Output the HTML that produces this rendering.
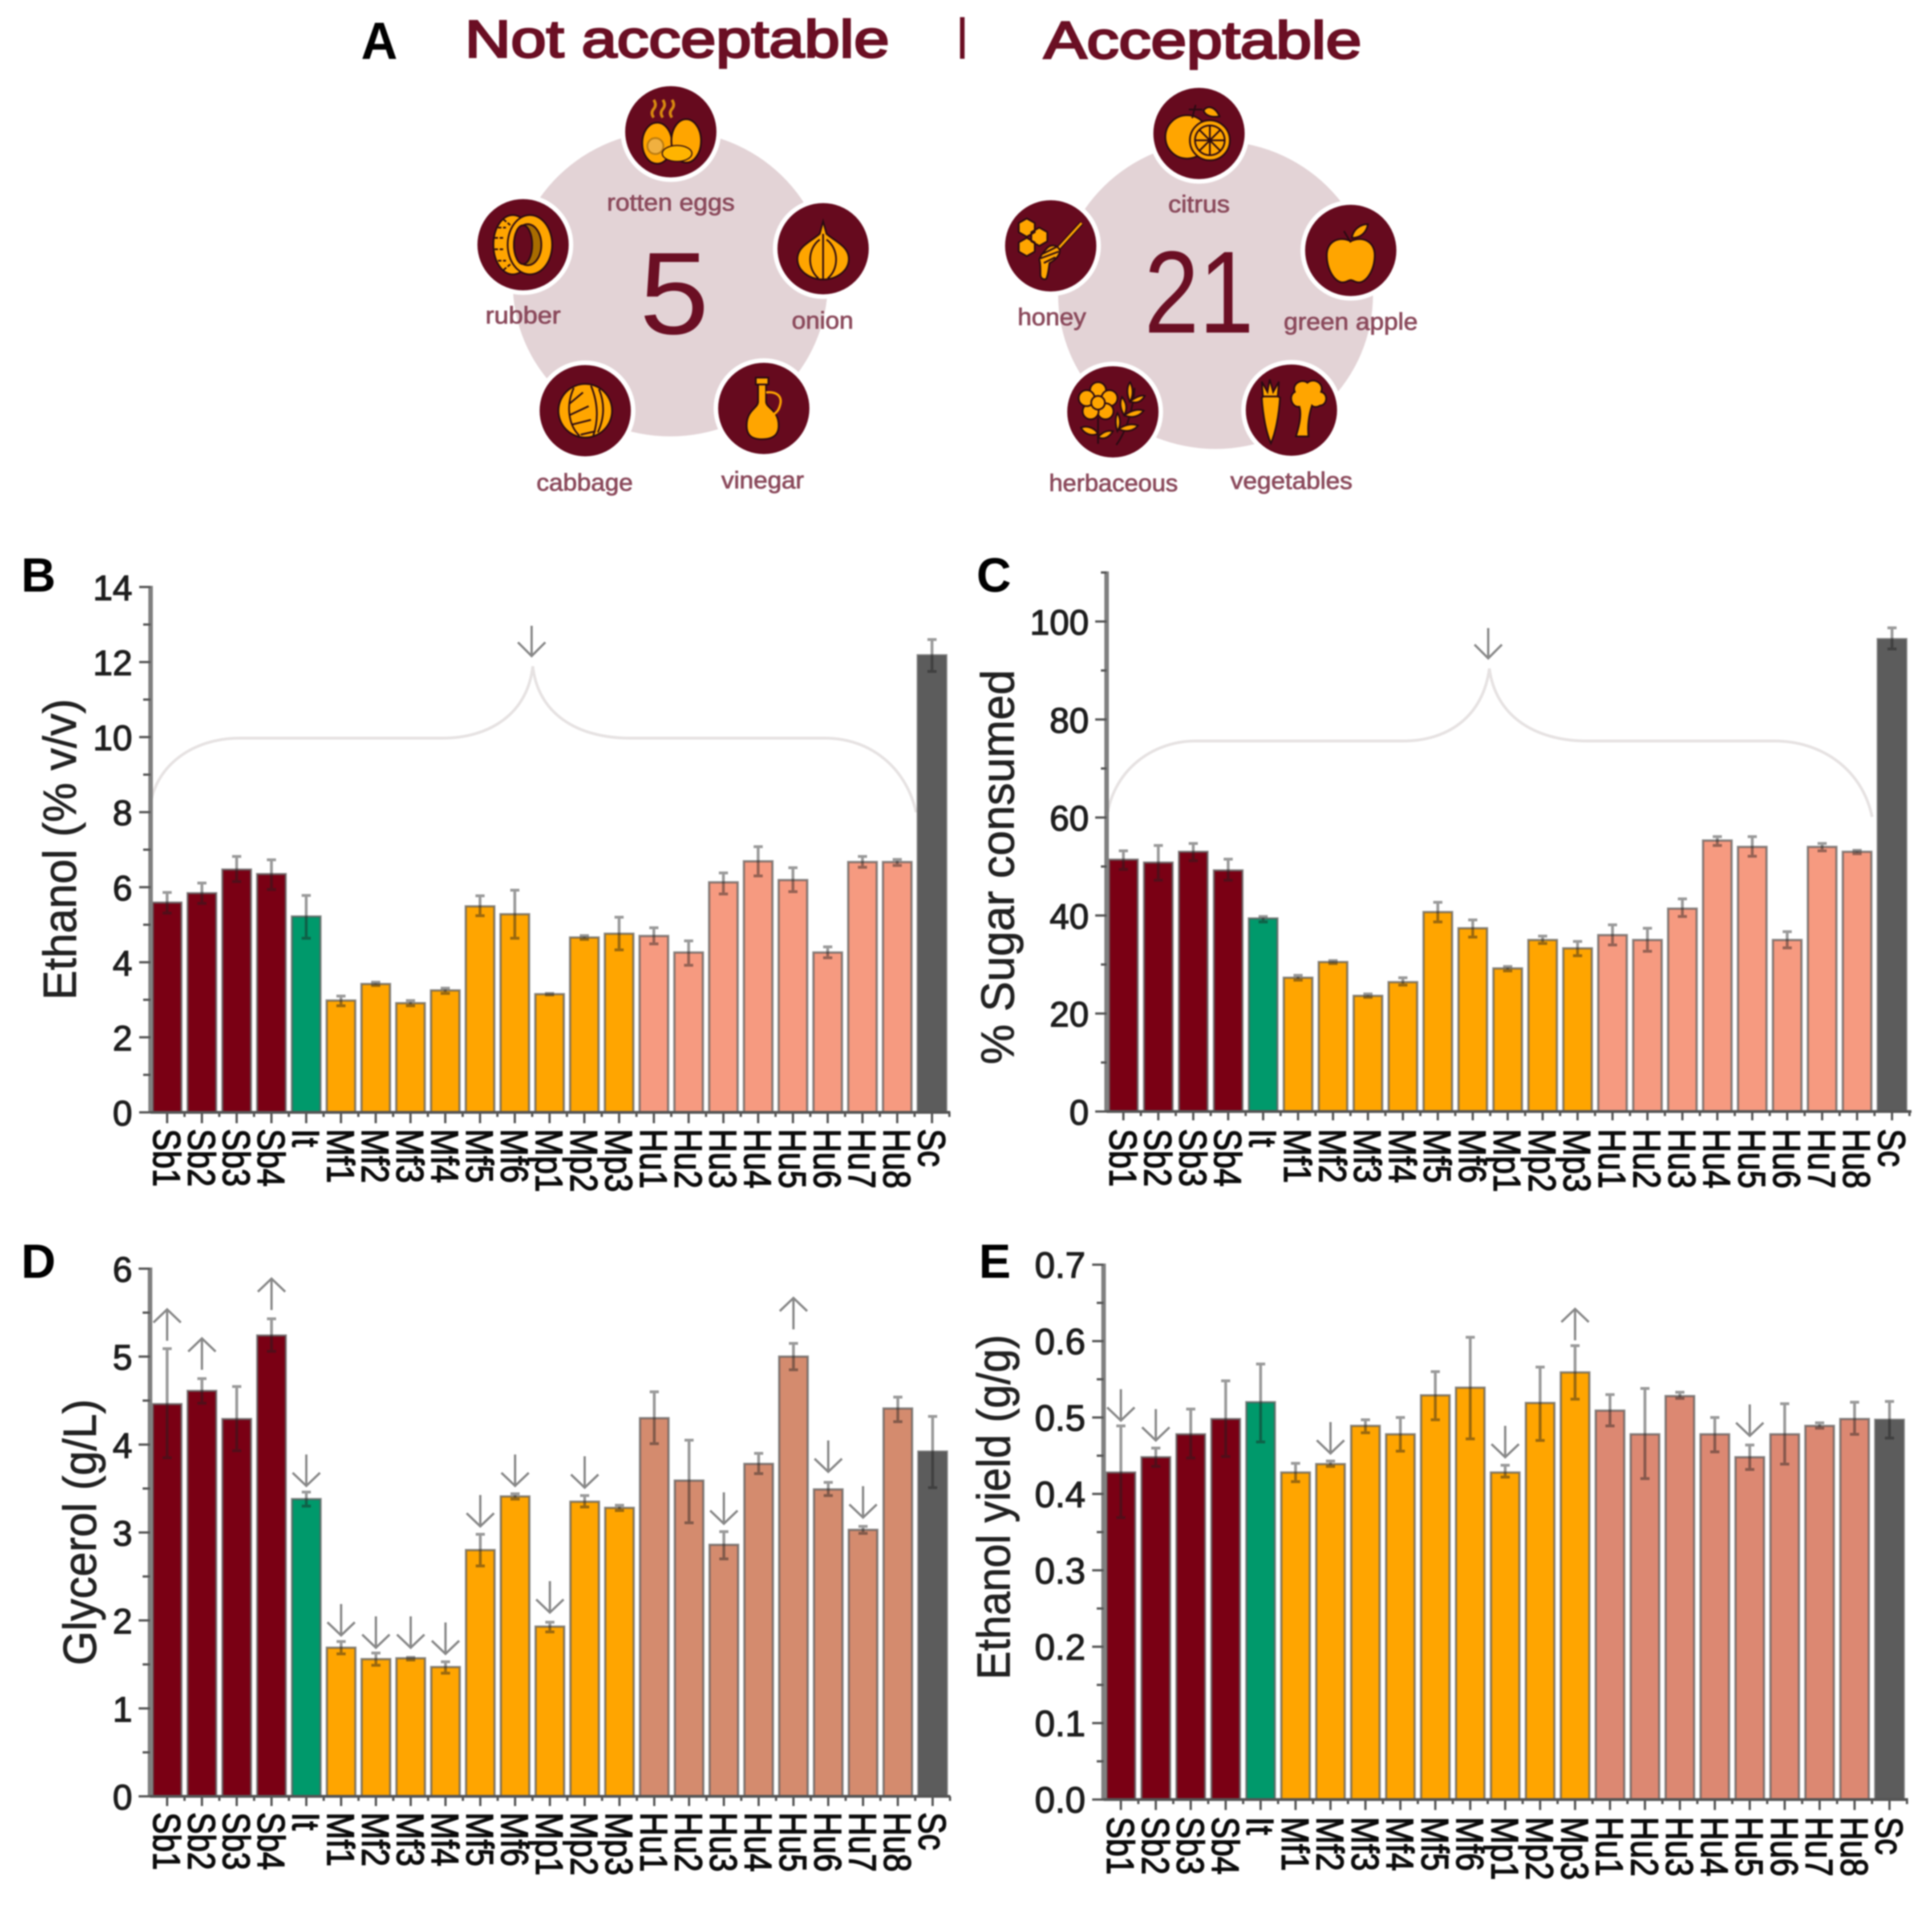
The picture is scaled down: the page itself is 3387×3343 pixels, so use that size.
<!DOCTYPE html>
<html lang="en">
<head>
<meta charset="utf-8">
<title>Fermentation performance of yeast strains</title>
<style>
html,body{margin:0;padding:0;background:#fff;width:3387px;height:3343px;overflow:hidden}
svg{display:block;filter:blur(1.3px);font-family:"Liberation Sans",Arial,sans-serif}
.ttl{font-weight:400;fill:#6b0f24;stroke:#6b0f24;stroke-width:3.5px;font-size:92px}
.lbl{fill:#8b4a5c;stroke:#8b4a5c;stroke-width:1px;font-size:42px;text-anchor:middle}
.num{fill:#6b0f24;font-size:205px}
.disc{fill:#660a1e;stroke:#fff;stroke-width:8}
.o{fill:#ffa500;stroke:#2a0a12;stroke-width:3}
.l{fill:none;stroke:#2a0a12;stroke-width:3}
.d{fill:#a86c00;stroke:#2a0a12;stroke-width:3}
.brace{fill:none;stroke:#e6e2e2;stroke-width:5}
.arrow{fill:none;stroke:#888;stroke-width:4}
</style>
</head>
<body>
<svg id="fig" xmlns="http://www.w3.org/2000/svg" width="3387" height="3343" viewBox="0 0 3387 3343">
<rect width="3387" height="3343" fill="#fff"/>

<g>
  <text x="633" y="103" font-size="92" font-weight="700" fill="#000" textLength="64" lengthAdjust="spacingAndGlyphs">A</text>
  <text class="ttl" x="815" y="100" textLength="744" lengthAdjust="spacingAndGlyphs">Not acceptable</text>
  <rect x="1683" y="30" width="8" height="73" fill="#6b0f24"/>
  <text class="ttl" x="1830" y="102" textLength="557" lengthAdjust="spacingAndGlyphs">Acceptable</text>

  <ellipse cx="1175" cy="497" rx="276" ry="268" fill="#e3d3d6"/>
  <text class="num" x="1182" y="585" text-anchor="middle" textLength="122" lengthAdjust="spacingAndGlyphs">5</text>

  <g transform="translate(1176,231)">
    <circle class="disc" r="84"/>
    <path d="M-30 -25q-6 -8 0 -15t0 -16M-14 -25q-6 -8 0 -15t0 -16M2 -25q-6 -8 0 -15t0 -16" fill="none" stroke="#d88a10" stroke-width="5"/>
    <ellipse class="o" cx="-24" cy="20" rx="26" ry="36"/>
    <ellipse class="o" cx="27" cy="16" rx="26" ry="38"/>
    <circle cx="-27" cy="25" r="14" fill="#f0b040" stroke="#b87a10" stroke-width="3"/>
    <ellipse cx="11" cy="38" rx="26" ry="14" fill="#ffb400" stroke="#2a0a12" stroke-width="2"/>
  </g>
  <g transform="translate(1443,436)">
    <circle class="disc" r="84"/>
    <path class="o" d="M0 -48L6 -26C22 -12 45 -4 45 18C45 40 22 54 0 54C-22 54 -45 40 -45 18C-45 -4 -22 -12 -6 -26Z"/>
    <path class="l" d="M0 -26V54M-6 -16C-28 0 -28 36 -8 52M6 -16C28 0 28 36 8 52"/>
  </g>
  <g transform="translate(1339,716)">
    <circle class="disc" r="84"/>
    <path class="o" d="M-14 -54H8V-42H4V-12C4 0 26 2 26 30C26 48 14 54 -3 54C-20 54 -30 48 -30 30C-30 2 -10 0 -10 -12V-42H-14Z"/>
    <path d="M4 -28C22 -30 34 -22 28 -4C25 6 20 8 18 10" fill="none" stroke="#ffa500" stroke-width="4"/>
    <path class="l" d="M-10 -42H4"/>
  </g>
  <g transform="translate(1026,720)">
    <circle class="disc" r="84"/>
    <circle class="o" r="47"/>
    <path class="l" d="M-20 -40C-34 -10 -30 25 -10 44M-28 -12L-4 -32M-28 8L6 -8M-22 24L10 16M-8 42L18 36M24 -38C34 -14 34 12 22 38M10 -44C24 -10 22 20 14 44"/>
  </g>
  <g transform="translate(917,429)">
    <circle class="disc" r="84"/>
    <ellipse class="o" cx="-18" cy="0" rx="34" ry="52"/>
    <path class="l" d="M-44 -30H-30M-50 -12H-34M-50 8H-34M-44 28H-30M-34 -44L-22 -34M-34 44L-22 34" stroke-dasharray="6 3"/>
    <ellipse class="o" cx="12" cy="0" rx="39" ry="52"/>
    <ellipse cx="8" cy="0" rx="24" ry="36" fill="#a86c00" stroke="#2a0a12" stroke-width="3"/>
    <ellipse cx="0" cy="0" rx="16" ry="34" fill="#660a1e" stroke="#2a0a12" stroke-width="3"/>
  </g>
  <text class="lbl" x="1176" y="369" textLength="224" lengthAdjust="spacingAndGlyphs">rotten eggs</text>
  <text class="lbl" x="917" y="567" textLength="132" lengthAdjust="spacingAndGlyphs">rubber</text>
  <text class="lbl" x="1442" y="576" textLength="108" lengthAdjust="spacingAndGlyphs">onion</text>
  <text class="lbl" x="1337" y="856" textLength="145" lengthAdjust="spacingAndGlyphs">vinegar</text>
  <text class="lbl" x="1025" y="860" textLength="169" lengthAdjust="spacingAndGlyphs">cabbage</text>

  <ellipse cx="2131" cy="517" rx="276" ry="270" fill="#e3d3d6"/>
  <text class="num" x="2006" y="583" textLength="192" lengthAdjust="spacingAndGlyphs">21</text>

  <g transform="translate(2102,234)">
    <circle class="disc" r="84"/>
    <circle class="o" cx="-21" cy="6" r="38"/>
    <path class="l" d="M-12 -27L-6 -50M-18 -42H6"/>
    <path class="o" d="M8 -40C14 -50 28 -48 36 -30C24 -28 12 -30 8 -40Z"/>
    <circle class="o" cx="19" cy="12" r="35"/>
    <circle class="l" cx="19" cy="12" r="26"/>
    <path class="l" d="M19 -14V38M-7 12H45M1 -6L37 30M1 30L37 -6"/>
  </g>
  <g transform="translate(2368,439)">
    <circle class="disc" r="84"/>
    <path class="o" d="M0 -16C20 -26 42 -16 42 8C42 34 28 56 14 56C8 56 4 52 0 52C-4 52 -8 56 -14 56C-28 56 -42 34 -42 8C-42 -16 -20 -26 0 -16Z"/>
    <path class="l" d="M0 -14L-12 -34"/>
    <path class="o" d="M2 -22C4 -36 16 -46 30 -46C28 -32 18 -22 2 -22Z"/>
  </g>
  <g transform="translate(2264,719)">
    <circle class="disc" r="84"/>
    <path class="o" d="M-52 -22C-44 -28 -30 -28 -20 -22C-22 10 -28 40 -36 58C-44 40 -50 10 -52 -22Z"/>
    <path class="o" d="M-50 -24L-52 -50L-42 -32L-38 -54L-32 -32L-22 -50L-24 -24Z"/>
    <path class="o" d="M6 -32C0 -46 18 -56 28 -48C40 -58 58 -46 52 -32C66 -28 62 -8 50 -8C44 -4 38 -6 36 -8C30 10 28 30 30 46H8C14 26 18 8 14 -6C0 -4 -6 -26 6 -32Z"/>
  </g>
  <g transform="translate(1951,722)">
    <circle class="disc" r="84"/>
    <circle class="o" cx="-26" cy="-38" r="14"/><circle class="o" cx="-6" cy="-24" r="14"/><circle class="o" cx="-13" cy="-1" r="14"/><circle class="o" cx="-39" cy="-1" r="14"/><circle class="o" cx="-46" cy="-24" r="14"/>
    <circle class="o" cx="-26" cy="-16" r="12"/>
    <path class="l" d="M-26 10V56M38 -42C36 -10 26 30 6 58"/>
    <path class="o" d="M-26 38C-34 26 -48 24 -56 28C-50 38 -38 44 -26 38ZM-26 44C-16 34 -8 32 0 34C-6 44 -16 50 -26 44Z"/>
    <path class="o" d="M30 -18C24 -30 24 -44 30 -52C36 -42 36 -28 30 -18ZM30 -18C40 -26 50 -30 56 -28C50 -18 42 -14 30 -18ZM20 6C12 -6 12 -18 16 -26C24 -16 26 -6 20 6ZM20 6C32 -2 44 -6 54 -2C46 8 34 12 20 6ZM8 34C4 22 4 10 8 2C14 12 14 24 8 34ZM10 30C22 22 34 20 44 24C36 34 22 36 10 30Z"/>
  </g>
  <g transform="translate(1842,431)">
    <circle class="disc" r="84"/>
    <path class="o" d="M-42 -48L-28 -40V-24L-42 -16L-56 -24V-40ZM-20 -32L-6 -24V-8L-20 0L-34 -8V-24ZM-42 -14L-28 -6V10L-42 18L-56 10V-6Z"/>
    <path d="M54 -40L12 6" stroke="#2a0a12" stroke-width="8"/>
    <path d="M54 -40L12 6" stroke="#ffa500" stroke-width="4"/>
    <path class="o" d="M-8 6C0 -4 12 -2 16 8C16 18 6 26 -2 30C-4 40 -4 50 -8 58C-14 60 -18 56 -18 50C-18 40 -18 30 -20 24C-18 18 -14 12 -8 6Z"/>
    <path class="l" d="M-14 14L10 2M-18 22L14 10M-12 30L8 20"/>
  </g>
  <text class="lbl" x="2102" y="372" textLength="108" lengthAdjust="spacingAndGlyphs">citrus</text>
  <text class="lbl" x="1844" y="570" textLength="120" lengthAdjust="spacingAndGlyphs">honey</text>
  <text class="lbl" x="2368" y="578" textLength="235" lengthAdjust="spacingAndGlyphs">green apple</text>
  <text class="lbl" x="2264" y="857" textLength="214" lengthAdjust="spacingAndGlyphs">vegetables</text>
  <text class="lbl" x="1952" y="861" textLength="226" lengthAdjust="spacingAndGlyphs">herbaceous</text>
</g>

<path class="brace" d="M264 1409C275 1340 340 1294 420 1294L775 1294C860 1294 925 1250 934 1168C943 1250 1010 1294 1105 1294L1446 1294C1530 1294 1590 1350 1606 1424"/>
<path class="arrow" d="M932 1097V1150M908 1126L932 1150L956 1126"/>
<path class="brace" d="M1942 1424C1955 1350 2020 1299 2096 1299L2459 1299C2540 1299 2600 1255 2611 1172C2622 1255 2690 1299 2783 1299L3111 1299C3195 1299 3265 1350 3282 1432"/>
<path class="arrow" d="M2609 1101V1154M2585 1130L2609 1154L2633 1130"/>
</svg>

<script>
var categories = ['Sb1','Sb2','Sb3','Sb4','It','Mf1','Mf2','Mf3','Mf4','Mf5','Mf6','Mp1','Mp2','Mp3','Hu1','Hu2','Hu3','Hu4','Hu5','Hu6','Hu7','Hu8','Sc'];
var speciesGroups = ['sb','sb','sb','sb','it','mf','mf','mf','mf','mf','mf','mp','mp','mp','hu','hu','hu','hu','hu','hu','hu','hu','sc'];

var ethanolValues = [5.59,5.84,6.47,6.35,5.22,2.98,3.42,2.91,3.25,5.49,5.28,3.15,4.66,4.76,4.7,4.26,6.13,6.69,6.19,4.26,6.67,6.67,12.18];
var ethanolHigh   = [5.86,6.11,6.82,6.73,5.78,3.1,3.47,2.98,3.31,5.77,5.92,3.17,4.71,5.2,4.92,4.57,6.38,7.08,6.52,4.41,6.82,6.74,12.6];
var ethanolLow    = [5.31,5.57,6.15,5.94,4.64,2.84,3.38,2.84,3.17,5.24,4.64,3.13,4.61,4.33,4.49,3.92,5.82,6.3,5.88,4.12,6.53,6.58,11.75];
var ethanolTicks  = [0,2,4,6,8,10,12,14];
var ethanolMinor  = [1,3,5,7,9,11,13];

var sugarValues = [51.4,50.8,53,49.2,39.4,27.3,30.5,23.6,26.4,40.7,37.4,29.2,35,33.3,36,35,41.4,55.3,54,35,54,53,96.4];
var sugarHigh   = [53.2,54.3,54.7,51.5,39.8,27.8,30.8,24,27.3,42.7,39.1,29.6,35.8,34.7,38.1,37.4,43.4,56.1,56.1,36.7,54.7,53.3,98.7];
var sugarLow    = [49.4,47.2,51.2,47.2,38.7,26.8,30.2,23.3,25.8,38.7,35.6,28.7,34.3,31.8,34,32.7,39.8,54.3,52.1,33.4,53.2,52.6,94.4];
var sugarTicks  = [0,20,40,60,80,100];
var sugarMinor  = [10,30,50,70,90,110];

var glycerolValues = [4.46,4.61,4.29,5.24,3.38,1.69,1.56,1.57,1.47,2.8,3.41,1.93,3.35,3.28,4.3,3.59,2.86,3.78,5,3.49,3.03,4.41,3.92];
var glycerolHigh   = [5.09,4.75,4.66,5.43,3.46,1.76,1.63,1.58,1.53,2.98,3.44,1.98,3.42,3.31,4.6,4.05,3.01,3.9,5.15,3.57,3.07,4.54,4.32];
var glycerolLow    = [3.85,4.47,3.93,5.06,3.3,1.62,1.49,1.55,1.4,2.62,3.38,1.87,3.29,3.25,4.01,3.11,2.7,3.67,4.85,3.42,2.99,4.26,3.51];
var glycerolTicks  = [0,1,2,3,4,5,6];
var glycerolMinor  = [0.5,1.5,2.5,3.5,4.5,5.5];
var glycerolArrowStrain = ['Sb1','Sb2','Sb4','Hu5','It','Mf1','Mf2','Mf3','Mf4','Mf5','Mf6','Mp1','Mp2','Hu3','Hu6','Hu7'];
var glycerolArrowDir    = ['up','up','up','up','down','down','down','down','down','down','down','down','down','down','down','down'];
var glycerolArrowAt     = [5.18,4.85,5.53,5.31,3.53,1.83,1.69,1.69,1.62,3.07,3.53,2.09,3.51,3.1,3.69,3.17];

var yieldValues = [0.428,0.448,0.478,0.498,0.52,0.428,0.439,0.489,0.478,0.529,0.539,0.428,0.519,0.559,0.509,0.478,0.528,0.478,0.448,0.478,0.489,0.498,0.497];
var yieldHigh   = [0.489,0.46,0.511,0.548,0.57,0.44,0.443,0.497,0.5,0.56,0.605,0.4375,0.566,0.594,0.53,0.538,0.533,0.5,0.464,0.518,0.493,0.52,0.521];
var yieldLow    = [0.369,0.436,0.447,0.449,0.468,0.416,0.436,0.48,0.456,0.497,0.472,0.422,0.47,0.524,0.489,0.42,0.525,0.455,0.432,0.439,0.486,0.478,0.473];
var yieldTicks  = [0,0.1,0.2,0.3,0.4,0.5,0.6,0.7];
var yieldMinor  = [0.05,0.15,0.25,0.35,0.45,0.55,0.65];
var yieldArrowStrain = ['Sb1','Sb2','Mf2','Mp1','Hu5','Mp3'];
var yieldArrowDir    = ['down','down','down','down','down','up'];
var yieldArrowAt     = [0.496,0.47,0.453,0.448,0.476,0.601];

var SVG_NS = 'http://www.w3.org/2000/svg';
var fig = document.getElementById('fig');

function make(tag, attrs, parent, text) {
  var node = document.createElementNS(SVG_NS, tag);
  for (var k in attrs) node.setAttribute(k, attrs[k]);
  if (text !== undefined) node.textContent = text;
  parent.appendChild(node);
  return node;
}

function linearAxis(domainMax, pixelZero, pixelMax) {
  return function (v) { return pixelZero + (pixelMax - pixelZero) * v / domainMax; };
}

function bandAxis(firstCentre, step) {
  return function (name) { return firstCentre + step * categories.indexOf(name); };
}

function barColour(group, salmon) {
  if (group === 'sb') return '#7a0014';
  if (group === 'it') return '#00996b';
  if (group === 'mf' || group === 'mp') return '#ffa500';
  if (group === 'hu') return salmon;
  return '#5c5c5c';
}

function drawPanel(p) {
  var key = p.key;
  var g = make('g', {}, fig);
  
  

  var x = bandAxis(p.firstCentre, p.step);
  var y = linearAxis(p.axisMax, p.y0, p.yTop);

  var letter = make('text', {x: p.letterX, y: p.letterY, 'font-size': 84, 'font-weight': 700, fill: '#000'}, g, p.letter);
  
  

  var title = make('text', {
    transform: 'translate(' + p.titleX + ',' + p.titleY + ') rotate(-90)',
    'text-anchor': 'middle', 'font-size': 82, fill: '#222', stroke: '#222', 'stroke-width': 1,
    textLength: p.titleLen, lengthAdjust: 'spacingAndGlyphs'
  }, g, p.title);
  
  

  p.values.forEach(function (v, i) {
    var name = categories[i];
    var cx = x(name);
    var bar = make('rect', {
      x: cx - 25, y: y(v), width: 50, height: p.y0 - y(v),
      fill: barColour(speciesGroups[i], p.salmon),
      stroke: 'rgba(90,90,90,0.7)', 'stroke-width': 4
    }, g);
    
    
  });

  p.values.forEach(function (v, i) {
    var name = categories[i];
    var cx = x(name);
    var hi = y(p.high[i]);
    var lo = y(p.low[i]);
    var err = make('path', {
      d: 'M' + (cx - 8) + ' ' + hi + 'H' + (cx + 8) + 'M' + cx + ' ' + hi + 'V' + lo + 'M' + (cx - 8) + ' ' + lo + 'H' + (cx + 8),
      fill: 'none', stroke: 'rgba(30,30,30,0.45)', 'stroke-width': 5
    }, g);
    
    
  });

  var yLine = make('line', {x1: p.axisX, x2: p.axisX, y1: y(p.axisMax) - 2, y2: p.y0 + 2, stroke: '#808080', 'stroke-width': 8}, g);
  
  

  var xLine = make('line', {x1: p.axisX, x2: p.xEnd, y1: p.y0, y2: p.y0, stroke: '#555', 'stroke-width': 5}, g);
  
  

  p.ticks.forEach(function (t) {
    var ty = y(t);
    var tick = make('line', {x1: p.axisX - p.majorLen, x2: p.axisX, y1: ty, y2: ty, stroke: '#555', 'stroke-width': 4}, g);
    
    
    var lab = make('text', {
      x: p.labelRight, y: ty + 23, 'text-anchor': 'end', 'font-size': p.tickFont,
      fill: '#1e1e1e', stroke: '#1e1e1e', 'stroke-width': 1.6
    }, g, p.decimals ? t.toFixed(p.decimals) : String(t));
    
    
  });

  p.minor.forEach(function (t) {
    var ty = y(t);
    var tick = make('line', {x1: p.axisX - p.minorLen, x2: p.axisX, y1: ty, y2: ty, stroke: '#555', 'stroke-width': 4}, g);
    
    
  });

  categories.forEach(function (name) {
    var cx = x(name);
    var tick = make('line', {x1: cx, x2: cx, y1: p.y0, y2: p.tickEnd, stroke: '#555', 'stroke-width': 4}, g);
    
    
    var mx = cx + p.step / 2;
    if (mx < p.xEnd) {
      var minorTick = make('line', {x1: mx, x2: mx, y1: p.y0, y2: p.y0 + 8, stroke: '#555', 'stroke-width': 4}, g);
      
      
    }
    var lab = make('text', {
      transform: 'translate(' + (cx - 24) + ',' + p.labelTop + ') rotate(90) scale(0.89,1.05)',
      'font-size': 64, fill: '#0c0c0c', stroke: '#0c0c0c', 'stroke-width': 1.8
    }, g, name);
    
    
  });

  (p.arrowStrain || []).forEach(function (name, i) {
    var cx = x(name);
    var near = y(p.arrowAt[i]);
    var d;
    if (p.arrowDir[i] === 'up') {
      d = 'M' + cx + ' ' + near + 'V' + (near - 55) + 'M' + (cx - 24) + ' ' + (near - 32) + 'L' + cx + ' ' + (near - 55) + 'L' + (cx + 24) + ' ' + (near - 32);
    } else {
      d = 'M' + cx + ' ' + (near - 55) + 'V' + near + 'M' + (cx - 24) + ' ' + (near - 23) + 'L' + cx + ' ' + near + 'L' + (cx + 24) + ' ' + (near - 23);
    }
    var arrow = make('path', {d: d, 'class': 'arrow'}, g);
    
    
  });
}

drawPanel({
  key: 'b', letter: 'B', letterX: 37, letterY: 1037,
  title: 'Ethanol (% v/v)', titleX: 133, titleY: 1489, titleLen: 528,
  values: ethanolValues, high: ethanolHigh, low: ethanolLow, ticks: ethanolTicks, minor: ethanolMinor,
  axisMax: 14, y0: 1950, yTop: 1029, axisX: 264, xEnd: 1666, firstCentre: 293, step: 60.95,
  labelRight: 232, tickFont: 62, majorLen: 20, minorLen: 13, tickEnd: 1969, labelTop: 1979,
  salmon: '#f69a80', decimals: 0
});

drawPanel({
  key: 'c', letter: 'C', letterX: 1712, letterY: 1037,
  title: '% Sugar consumed', titleX: 1777, titleY: 1520, titleLen: 692,
  values: sugarValues, high: sugarHigh, low: sugarLow, ticks: sugarTicks, minor: sugarMinor,
  axisMax: 110, y0: 1948.5, yTop: 1003.6, axisX: 1940, xEnd: 3351, firstCentre: 1969.4, step: 61.25,
  labelRight: 1909, tickFont: 62, majorLen: 20, minorLen: 10, tickEnd: 1964, labelTop: 1979,
  salmon: '#f69a80', decimals: 0
});

drawPanel({
  key: 'd', letter: 'D', letterX: 37, letterY: 2240,
  title: 'Glycerol (g/L)', titleX: 168, titleY: 2686, titleLen: 467,
  values: glycerolValues, high: glycerolHigh, low: glycerolLow, ticks: glycerolTicks, minor: glycerolMinor,
  arrowStrain: glycerolArrowStrain, arrowDir: glycerolArrowDir, arrowAt: glycerolArrowAt,
  axisMax: 6, y0: 3149, yTop: 2224, axisX: 263, xEnd: 1666, firstCentre: 293, step: 61,
  labelRight: 232, tickFont: 62, majorLen: 20, minorLen: 13, tickEnd: 3166, labelTop: 3177,
  salmon: '#d48b6e', decimals: 0
});

drawPanel({
  key: 'e', letter: 'E', letterX: 1716, letterY: 2240,
  title: 'Ethanol yield (g/g)', titleX: 1770, titleY: 2642, titleLen: 605,
  values: yieldValues, high: yieldHigh, low: yieldLow, ticks: yieldTicks, minor: yieldMinor,
  arrowStrain: yieldArrowStrain, arrowDir: yieldArrowDir, arrowAt: yieldArrowAt,
  axisMax: 0.7, y0: 3154.6, yTop: 2217, axisX: 1934.7, xEnd: 3345, firstCentre: 1965, step: 61.25,
  labelRight: 1903, tickFont: 64, majorLen: 20, minorLen: 12, tickEnd: 3173, labelTop: 3185,
  salmon: '#dc8872', decimals: 1
});
</script>
</body>
</html>
